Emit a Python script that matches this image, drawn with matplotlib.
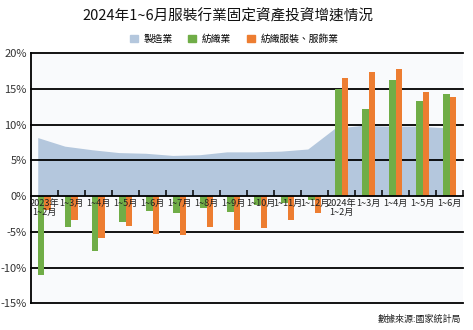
import matplotlib
matplotlib.use("Agg")
import matplotlib.pyplot as plt
import numpy as np
from matplotlib.patches import Patch

plt.rcParams['font.family'] = ['Noto Sans CJK TC', 'DejaVu Sans']

categories = ["2023年\n1~2月", "1~3月", "1~4月", "1~5月", "1~6月", "1~7月", "1~8月",
              "1~9月", "1~10月", "1~11月", "1~12月", "2024年\n1~2月", "1~3月",
              "1~4月", "1~5月", "1~6月"]
manufacturing = [8.2, 7.0, 6.5, 6.1, 6.0, 5.7, 5.8, 6.2, 6.2, 6.3, 6.6,
                 9.5, 9.9, 9.8, 9.8, 9.6]
textile = [-11.1, -4.3, -7.7, -3.6, -2.1, -2.3, -1.7, -2.2, -1.3, -0.9, -0.6,
           15.0, 12.2, 16.2, 13.3, 14.3]
apparel = [-2.0, -3.3, -5.8, -4.2, -5.3, -5.5, -4.3, -4.8, -4.4, -3.3, -2.4,
           16.5, 17.4, 17.8, 14.6, 13.9]
yticks = [-15, -10, -5, 0, 5, 10, 15, 20]
series_names = ["製造業", "紡織業", "紡織服裝、服飾業"]

c_area = "#b4c7dd"
c_green = "#70ad47"
c_orange = "#ed7d31"

fig = plt.figure(figsize=(4.73, 3.30), dpi=100, facecolor="white")
ax = fig.add_axes([0.0655, 0.081, 0.9135, 0.7575])
ax.set_facecolor("#f9fafc")

x = np.arange(len(categories))
w = 0.25

ax.fill_between(x - 0.25, manufacturing, 0, color=c_area, lw=0, zorder=1)
for y in yticks:
    if y != 0:
        ax.axhline(y, color="black", lw=1.3, zorder=2, clip_on=False)
ax.bar(x - w / 2, textile, width=w, color=c_green, zorder=3)
ax.bar(x + w / 2, apparel, width=w, color=c_orange, zorder=3)

ax.set_xlim(-0.5, len(categories) - 0.5)
ax.set_ylim(-15, 20)

for s in ["top", "right"]:
    ax.spines[s].set_visible(False)
ax.spines["left"].set_color("black")
ax.spines["left"].set_linewidth(1.3)
ax.spines["bottom"].set_position(("data", 0))
ax.spines["bottom"].set_linewidth(1.3)
ax.spines["bottom"].set_zorder(4)

ax.set_xticks(x)
ax.set_xticklabels(categories, fontsize=6.6, color="#222222", linespacing=1.0)
ax.tick_params(axis="x", which="major", length=0, pad=2)
ax.set_xticks(np.arange(0.5, len(categories) + 0.5, 1), minor=True)
ax.tick_params(axis="x", which="minor", direction="in", length=4, width=1.1,
               color="black")
ax.xaxis.set_zorder(5)

ax.set_yticks(yticks)
ax.set_yticklabels([f"{v}%" for v in yticks], fontsize=8, color="#333333")
ax.tick_params(axis="y", length=0, pad=3)

fig.text(0.482, 0.952, "2024年1~6月服裝行業固定資產投資增速情況", ha="center",
         va="center", fontsize=10.5, color="#111111")

handles = [Patch(color=c_area), Patch(color=c_green), Patch(color=c_orange)]
fig.legend(handles, series_names, loc="center", bbox_to_anchor=(0.495, 0.882),
           ncol=3, frameon=False, fontsize=7, handlelength=0.8, handleheight=0.8,
           handletextpad=0.6, columnspacing=1.6)

fig.text(0.975, 0.033, "數據來源:國家統計局", ha="right", va="center",
         fontsize=6.5, color="#222222")

fig.savefig("out.png", dpi=100, facecolor="white")
